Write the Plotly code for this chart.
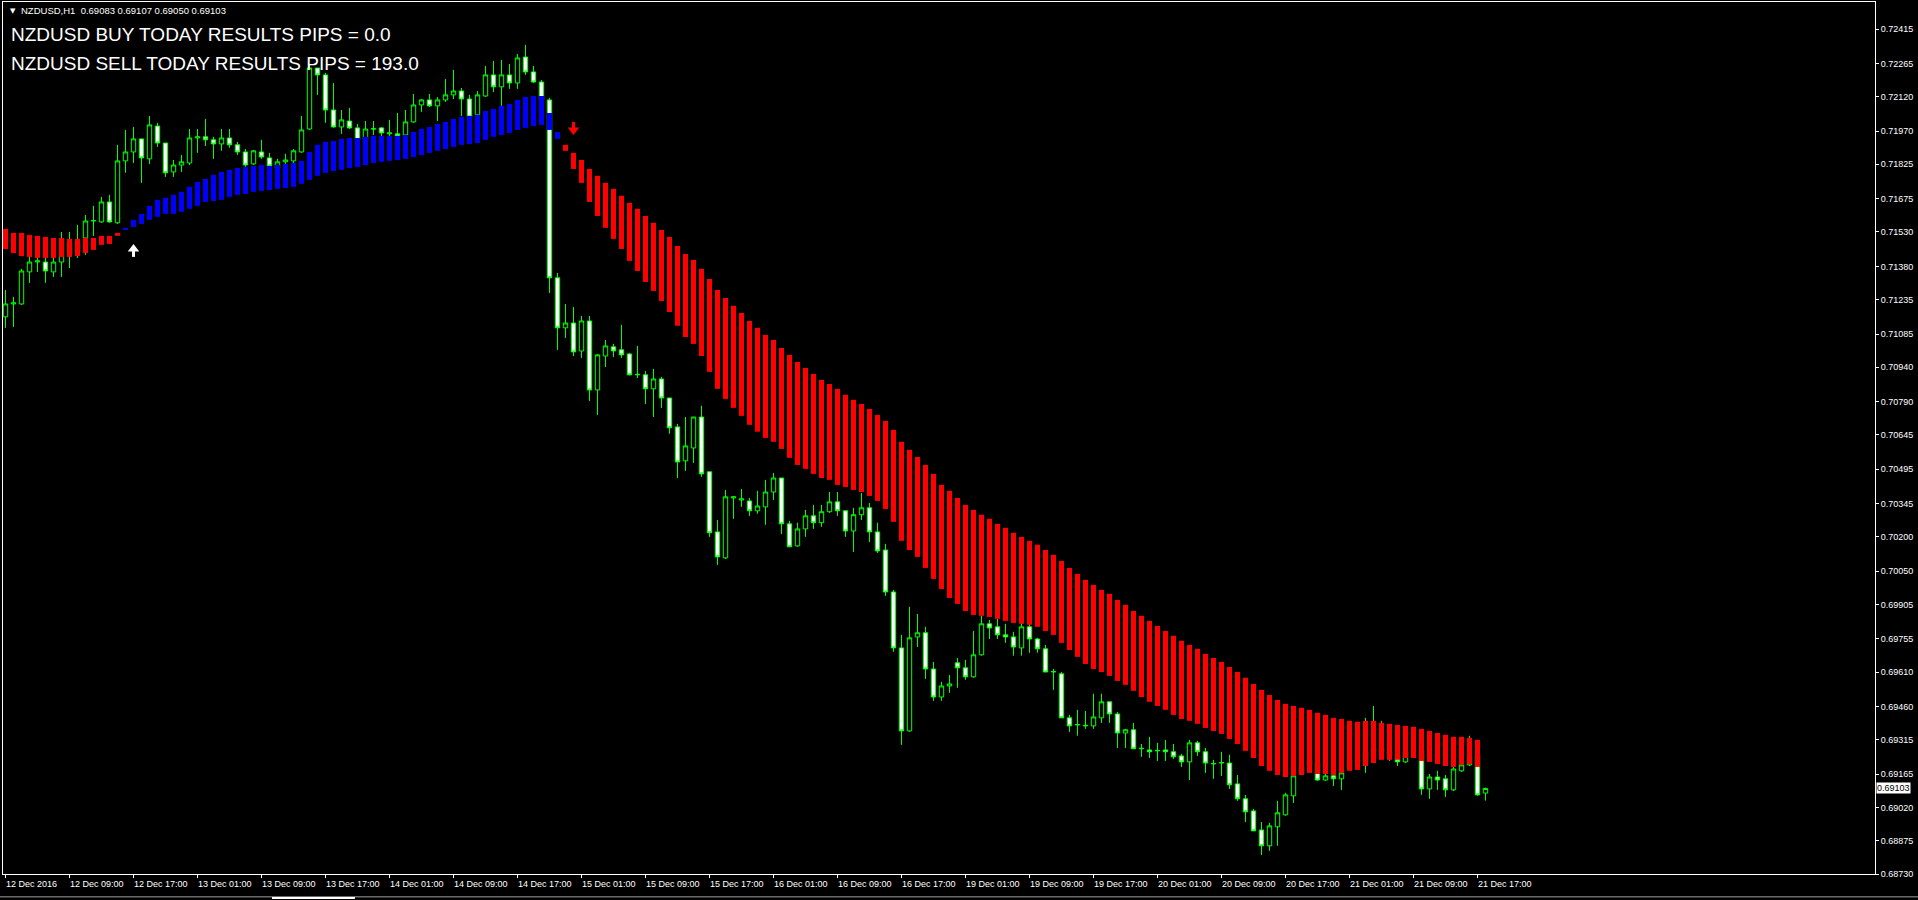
import plotly.graph_objects as go

# ---------------- data (NZDUSD H1) ----------------
bar_index = list(range(186))

open_ = [
 0.71160,0.71216,0.71216,0.71356,0.71399,0.71399,0.71356,0.71399,0.71430,0.71443,
 0.71504,0.71578,0.71574,0.71661,0.71570,0.71840,0.71879,0.71936,0.71849,0.71992,
 0.71918,0.71792,0.71822,0.71831,0.71940,0.71945,0.71932,0.71914,0.71940,0.71910,
 0.71879,0.71827,0.71879,0.71853,0.71809,0.71836,0.71840,0.71879,0.71979,0.72245,
 0.72215,0.72062,0.71988,0.72014,0.71984,0.71932,0.71979,0.71984,0.71958,0.71958,
 0.71953,0.72010,0.72084,0.72106,0.72080,0.72106,0.72128,0.72145,0.72110,0.72041,
 0.72123,0.72215,0.72163,0.72215,0.72180,0.72293,0.72228,0.72184,0.72106,0.71330,
 0.71112,0.71133,0.71011,0.71142,0.70841,0.70989,0.71029,0.71016,0.70998,0.70907,
 0.70907,0.70846,0.70889,0.70806,0.70680,0.70532,0.70588,0.70723,0.70484,0.70222,
 0.70109,0.70370,0.70361,0.70357,0.70314,0.70331,0.70396,0.70457,0.70257,0.70161,
 0.70235,0.70292,0.70262,0.70310,0.70353,0.70314,0.70226,0.70297,0.70327,0.70222,
 0.70143,0.69960,0.69716,0.69354,0.69764,0.69782,0.69624,0.69502,0.69550,0.69651,
 0.69629,0.69590,0.69686,0.69821,0.69808,0.69773,0.69764,0.69716,0.69808,0.69755,
 0.69712,0.69611,0.69603,0.69411,0.69380,0.69376,0.69376,0.69411,0.69481,0.69428,
 0.69345,0.69359,0.69276,0.69271,0.69267,0.69271,0.69263,0.69245,0.69219,0.69302,
 0.69263,0.69210,0.69214,0.69214,0.69123,0.69058,0.69005,0.68922,0.68853,0.68936,
 0.68988,0.69071,0.69166,0.69201,0.69219,0.69140,0.69158,0.69145,0.69193,0.69228,
 0.69219,0.69263,0.69280,0.69263,0.69250,0.69219,0.69263,0.69271,0.69101,0.69153,
 0.69145,0.69097,0.69180,0.69206,0.69250,0.69083]

high = [
 0.71277,0.71247,0.71369,0.71421,0.71430,0.71421,0.71430,0.71530,0.71530,0.71561,
 0.71604,0.71644,0.71683,0.71692,0.71910,0.71975,0.71988,0.71936,0.72036,0.72006,
 0.71918,0.71844,0.71866,0.71979,0.71979,0.72023,0.71945,0.71979,0.71979,0.71923,
 0.71892,0.71888,0.71932,0.71875,0.71849,0.71871,0.71892,0.72036,0.72258,0.72245,
 0.72224,0.72180,0.72062,0.72071,0.72001,0.72014,0.72014,0.71988,0.72019,0.72049,
 0.72062,0.72132,0.72110,0.72132,0.72119,0.72197,0.72237,0.72158,0.72128,0.72145,
 0.72254,0.72276,0.72280,0.72263,0.72306,0.72346,0.72254,0.72193,0.72115,0.71351,
 0.71216,0.71203,0.71164,0.71164,0.70998,0.71059,0.71042,0.71125,0.71003,0.71033,
 0.70924,0.70933,0.70898,0.70806,0.70693,0.70723,0.70723,0.70772,0.70484,0.70274,
 0.70405,0.70377,0.70409,0.70370,0.70401,0.70449,0.70479,0.70457,0.70270,0.70262,
 0.70318,0.70340,0.70340,0.70396,0.70396,0.70314,0.70327,0.70392,0.70348,0.70262,
 0.70170,0.69969,0.69773,0.69895,0.69864,0.69808,0.69655,0.69568,0.69598,0.69672,
 0.69664,0.69790,0.69856,0.69838,0.69843,0.69821,0.69786,0.69825,0.69825,0.69760,
 0.69729,0.69624,0.69611,0.69424,0.69446,0.69441,0.69516,0.69516,0.69481,0.69437,
 0.69363,0.69389,0.69297,0.69328,0.69302,0.69315,0.69297,0.69254,0.69315,0.69311,
 0.69280,0.69228,0.69263,0.69250,0.69162,0.69075,0.69014,0.68957,0.68953,0.69049,
 0.69084,0.69162,0.69214,0.69241,0.69236,0.69184,0.69175,0.69193,0.69245,0.69250,
 0.69411,0.69463,0.69398,0.69337,0.69293,0.69293,0.69315,0.69293,0.69166,0.69180,
 0.69162,0.69197,0.69271,0.69333,0.69293,0.69107]

low = [
 0.71112,0.71116,0.71212,0.71308,0.71356,0.71308,0.71334,0.71334,0.71373,0.71417,
 0.71430,0.71513,0.71570,0.71570,0.71565,0.71788,0.71831,0.71744,0.71827,0.71901,
 0.71770,0.71770,0.71792,0.71822,0.71875,0.71905,0.71849,0.71884,0.71897,0.71866,
 0.71814,0.71822,0.71849,0.71801,0.71796,0.71818,0.71831,0.71875,0.71975,0.72128,
 0.72006,0.71985,0.71958,0.71979,0.71910,0.71923,0.71953,0.71945,0.71940,0.71932,
 0.71945,0.72006,0.72054,0.72075,0.72014,0.72097,0.72110,0.72036,0.72014,0.72028,
 0.72119,0.72141,0.72080,0.72154,0.72154,0.72215,0.72180,0.72088,0.71264,0.71016,
 0.71068,0.70989,0.70981,0.70793,0.70732,0.70941,0.70985,0.70981,0.70905,0.70893,
 0.70780,0.70723,0.70763,0.70650,0.70457,0.70488,0.70523,0.70462,0.70200,0.70078,
 0.70104,0.70279,0.70331,0.70292,0.70301,0.70253,0.70361,0.70213,0.70157,0.70157,
 0.70200,0.70235,0.70244,0.70305,0.70292,0.70200,0.70135,0.70274,0.70178,0.70130,
 0.69943,0.69699,0.69293,0.69350,0.69720,0.69581,0.69485,0.69485,0.69520,0.69542,
 0.69577,0.69586,0.69682,0.69755,0.69755,0.69738,0.69682,0.69682,0.69695,0.69695,
 0.69611,0.69533,0.69411,0.69350,0.69333,0.69363,0.69363,0.69389,0.69389,0.69280,
 0.69280,0.69276,0.69241,0.69236,0.69223,0.69223,0.69232,0.69197,0.69140,0.69245,
 0.69171,0.69145,0.69158,0.69101,0.69049,0.68957,0.68918,0.68813,0.68831,0.68853,
 0.68984,0.69040,0.69162,0.69184,0.69136,0.69136,0.69114,0.69097,0.69184,0.69197,
 0.69171,0.69228,0.69241,0.69223,0.69201,0.69214,0.69245,0.69075,0.69058,0.69097,
 0.69066,0.69092,0.69175,0.69201,0.69071,0.69050]

close = [
 0.71216,0.71221,0.71360,0.71399,0.71404,0.71360,0.71399,0.71500,0.71487,0.71491,
 0.71578,0.71580,0.71661,0.71574,0.71840,0.71879,0.71936,0.71853,0.71997,0.71918,
 0.71788,0.71822,0.71836,0.71940,0.71945,0.71932,0.71914,0.71940,0.71910,0.71879,
 0.71822,0.71884,0.71857,0.71818,0.71836,0.71844,0.71884,0.71975,0.72245,0.72215,
 0.72062,0.71988,0.72019,0.71984,0.71932,0.71979,0.71980,0.71962,0.71962,0.71949,
 0.72010,0.72084,0.72106,0.72080,0.72106,0.72128,0.72145,0.72110,0.72032,0.72128,
 0.72215,0.72163,0.72215,0.72180,0.72289,0.72228,0.72184,0.72106,0.71330,0.71112,
 0.71133,0.71007,0.71142,0.70841,0.70994,0.71033,0.71011,0.70994,0.70907,0.70909,
 0.70846,0.70889,0.70806,0.70676,0.70527,0.70597,0.70723,0.70475,0.70218,0.70113,
 0.70375,0.70375,0.70366,0.70314,0.70335,0.70396,0.70457,0.70257,0.70157,0.70235,
 0.70292,0.70262,0.70310,0.70353,0.70314,0.70226,0.70297,0.70327,0.70222,0.70139,
 0.69960,0.69716,0.69354,0.69760,0.69782,0.69624,0.69502,0.69550,0.69559,0.69629,
 0.69590,0.69686,0.69821,0.69803,0.69773,0.69764,0.69720,0.69808,0.69755,0.69712,
 0.69611,0.69613,0.69411,0.69376,0.69382,0.69378,0.69415,0.69481,0.69428,0.69345,
 0.69359,0.69276,0.69278,0.69263,0.69269,0.69263,0.69241,0.69219,0.69302,0.69263,
 0.69214,0.69212,0.69216,0.69119,0.69058,0.69001,0.68918,0.68853,0.68940,0.68997,
 0.69075,0.69158,0.69201,0.69228,0.69140,0.69158,0.69145,0.69171,0.69228,0.69219,
 0.69263,0.69280,0.69263,0.69250,0.69219,0.69263,0.69271,0.69101,0.69153,0.69140,
 0.69097,0.69188,0.69206,0.69250,0.69075,0.69103]

# trend band (indicator) : upper / lower edge per bar, and direction
band_upper = [
 0.71543,0.71526,0.71526,0.71517,0.71513,0.71508,0.71504,0.71504,0.71500,0.71500,
 0.71504,0.71504,0.71513,0.71513,0.71526,0.71548,0.71583,0.71609,0.71644,0.71670,
 0.71679,0.71692,0.71705,0.71727,0.71748,0.71761,0.71779,0.71792,0.71801,0.71809,
 0.71814,0.71818,0.71822,0.71818,0.71822,0.71827,0.71831,0.71840,0.71879,0.71910,
 0.71923,0.71927,0.71936,0.71940,0.71940,0.71945,0.71949,0.71949,0.71949,0.71949,
 0.71953,0.71966,0.71979,0.71988,0.72001,0.72010,0.72023,0.72032,0.72036,0.72041,
 0.72058,0.72067,0.72080,0.72088,0.72106,0.72119,0.72123,0.72123,0.72049,0.71966,
 0.71910,0.71875,0.71844,0.71805,0.71775,0.71744,0.71718,0.71688,0.71657,0.71631,
 0.71600,0.71570,0.71539,0.71508,0.71469,0.71434,0.71408,0.71369,0.71325,0.71277,
 0.71242,0.71208,0.71177,0.71142,0.71112,0.71081,0.71059,0.71024,0.70994,0.70963,
 0.70937,0.70911,0.70885,0.70867,0.70846,0.70820,0.70798,0.70780,0.70758,0.70732,
 0.70706,0.70667,0.70615,0.70580,0.70549,0.70514,0.70475,0.70427,0.70401,0.70370,
 0.70340,0.70318,0.70297,0.70279,0.70257,0.70240,0.70218,0.70200,0.70183,0.70166,
 0.70143,0.70122,0.70095,0.70065,0.70039,0.70013,0.69991,0.69969,0.69952,0.69925,
 0.69904,0.69877,0.69856,0.69834,0.69812,0.69790,0.69769,0.69747,0.69729,0.69712,
 0.69690,0.69672,0.69655,0.69633,0.69611,0.69586,0.69559,0.69533,0.69511,0.69489,
 0.69472,0.69463,0.69455,0.69446,0.69433,0.69424,0.69411,0.69406,0.69398,0.69394,
 0.69398,0.69398,0.69389,0.69385,0.69380,0.69376,0.69372,0.69363,0.69354,0.69345,
 0.69337,0.69328,0.69328,0.69324,0.69315]

band_lower = [
 0.71456,0.71438,0.71425,0.71421,0.71417,0.71417,0.71417,0.71421,0.71421,0.71425,
 0.71438,0.71452,0.71474,0.71478,0.71513,0.71539,0.71552,0.71565,0.71583,0.71596,
 0.71609,0.71609,0.71618,0.71631,0.71644,0.71661,0.71665,0.71670,0.71683,0.71692,
 0.71696,0.71705,0.71709,0.71713,0.71718,0.71722,0.71727,0.71740,0.71757,0.71775,
 0.71788,0.71796,0.71801,0.71809,0.71814,0.71822,0.71831,0.71836,0.71840,0.71844,
 0.71849,0.71857,0.71866,0.71875,0.71884,0.71892,0.71901,0.71910,0.71914,0.71918,
 0.71932,0.71945,0.71953,0.71962,0.71975,0.71984,0.71992,0.71997,0.71975,0.71936,
 0.71884,0.71805,0.71744,0.71661,0.71600,0.71548,0.71500,0.71456,0.71404,0.71360,
 0.71312,0.71273,0.71229,0.71181,0.71121,0.71072,0.71042,0.70989,0.70920,0.70846,
 0.70802,0.70763,0.70728,0.70689,0.70659,0.70632,0.70615,0.70584,0.70545,0.70514,
 0.70497,0.70475,0.70457,0.70449,0.70427,0.70418,0.70405,0.70396,0.70379,0.70357,
 0.70322,0.70266,0.70183,0.70143,0.70113,0.70065,0.70017,0.69973,0.69934,0.69908,
 0.69877,0.69860,0.69856,0.69851,0.69843,0.69834,0.69825,0.69821,0.69817,0.69808,
 0.69790,0.69773,0.69738,0.69707,0.69677,0.69646,0.69624,0.69611,0.69594,0.69572,
 0.69555,0.69529,0.69502,0.69481,0.69463,0.69446,0.69424,0.69406,0.69398,0.69385,
 0.69367,0.69354,0.69341,0.69319,0.69297,0.69267,0.69236,0.69201,0.69180,0.69162,
 0.69153,0.69158,0.69162,0.69171,0.69166,0.69166,0.69162,0.69171,0.69180,0.69184,
 0.69201,0.69214,0.69228,0.69228,0.69228,0.69236,0.69236,0.69223,0.69219,0.69210,
 0.69201,0.69197,0.69206,0.69210,0.69197]

band_trend = ["down"] * 15 + ["up"] * 55 + ["down"] * 115

# signal arrows: (bar, price at arrow tip, direction)
signals = [(16, 0.71478, "buy"), (71, 0.71953, "sell")]

# axis labels
price_labels = ["0.72415","0.72265","0.72120","0.71970","0.71825","0.71675","0.71530",
                "0.71380","0.71235","0.71085","0.70940","0.70790","0.70645","0.70495",
                "0.70345","0.70200","0.70050","0.69905","0.69755","0.69610","0.69460",
                "0.69315","0.69165","0.69020","0.68875","0.68730"]
time_labels = ["12 Dec 2016","12 Dec 09:00","12 Dec 17:00","13 Dec 01:00","13 Dec 09:00",
               "13 Dec 17:00","14 Dec 01:00","14 Dec 09:00","14 Dec 17:00","15 Dec 01:00",
               "15 Dec 09:00","15 Dec 17:00","16 Dec 01:00","16 Dec 09:00","16 Dec 17:00",
               "19 Dec 01:00","19 Dec 09:00","19 Dec 17:00","20 Dec 01:00","20 Dec 09:00",
               "20 Dec 17:00","21 Dec 01:00","21 Dec 09:00","21 Dec 17:00"]
time_label_bars = list(range(0, 185, 8))

symbol_line = "NZDUSD,H1  0.69083 0.69107 0.69050 0.69103"
buy_text = "NZDUSD BUY TODAY RESULTS PIPS = 0.0"
sell_text = "NZDUSD SELL TODAY RESULTS PIPS = 193.0"
last_price = 0.69103

# ---------------- figure ----------------
X_RANGE = [-0.3125, 233.6875]
Y_RANGE = [0.68730, 0.72533]
PLOT_H = 872
PX = (Y_RANGE[1] - Y_RANGE[0]) / PLOT_H   # price per screen pixel
FONT = "Liberation Sans, Arial, sans-serif"
GREEN = "#00ff00"

fig = go.Figure()

fig.add_trace(go.Candlestick(
    x=bar_index, open=open_, high=high, low=low, close=close,
    increasing=dict(line=dict(color=GREEN, width=1), fillcolor="#000000"),
    decreasing=dict(line=dict(color=GREEN, width=1), fillcolor="#ffffff"),
    whiskerwidth=0, hoverinfo="skip", showlegend=False,
))

nb = len(band_upper)
fig.add_trace(go.Bar(
    x=bar_index[:nb],
    y=[u - l for u, l in zip(band_upper, band_lower)],
    base=band_lower,
    width=0.625,
    marker=dict(color=["#ff0000" if t == "down" else "#0000ff" for t in band_trend],
                line=dict(width=0)),
    xaxis="x2", yaxis="y2", hoverinfo="skip", showlegend=False,
))

# signal arrows: stem + head (MT4 style)
for bar, price, kind in signals:
    d = 1 if kind == "buy" else -1          # +1: arrow points up
    col = "#ffffff" if kind == "buy" else "#ff0000"
    head_c = price - d * 5 * PX
    tail = price - d * 13 * PX
    fig.add_trace(go.Scatter(
        x=[bar, bar], y=[head_c, tail], mode="lines",
        line=dict(color=col, width=3), xaxis="x2", yaxis="y2",
        hoverinfo="skip", showlegend=False,
    ))
    fig.add_trace(go.Scatter(
        x=[bar], y=[head_c], mode="markers",
        marker=dict(symbol="triangle-up" if kind == "buy" else "triangle-down",
                    size=10, color=col, line=dict(width=0)),
        xaxis="x2", yaxis="y2", hoverinfo="skip", showlegend=False,
    ))

annotations = []
for b, t in zip(time_label_bars, time_labels):
    annotations.append(dict(
        x=b, y=0, xref="x", yref="paper", text=t, showarrow=False,
        xanchor="left", yanchor="top", yshift=-3, xshift=-2,
        font=dict(family=FONT, size=9, color="#ffffff"),
    ))

annotations += [
    dict(x=0.0027, y=0.9895, xref="paper", yref="paper", text="▼", showarrow=False,
         xanchor="left", yanchor="middle",
         font=dict(family="DejaVu Sans", size=7, color="#ffffff")),
    dict(x=0.0085, y=0.9897, xref="paper", yref="paper", text=symbol_line, showarrow=False,
         xanchor="left", yanchor="middle",
         font=dict(family=FONT, size=9.5, color="#ffffff")),
    dict(x=0.0030, y=0.9633, xref="paper", yref="paper", text=buy_text, showarrow=False,
         xanchor="left", yanchor="middle",
         font=dict(family=FONT, size=19, color="#ffffff")),
    dict(x=0.0030, y=0.9289, xref="paper", yref="paper", text=sell_text, showarrow=False,
         xanchor="left", yanchor="middle",
         font=dict(family=FONT, size=19, color="#ffffff")),
    dict(x=1, y=last_price, xref="paper", yref="y", text="%.5f" % last_price,
         showarrow=False, xanchor="left", yanchor="middle", xshift=1,
         bgcolor="#ffffff", borderpad=0,
         font=dict(family=FONT, size=9, color="#000000")),
]

shapes = [
    dict(type="line", xref="paper", yref="paper", x0=-0.002, x1=1.03, y0=-0.0262, y1=-0.0262,
         line=dict(color="#a0a0a0", width=1)),
    dict(type="line", xref="paper", yref="paper", x0=0.1437, x1=0.188, y0=-0.0275, y1=-0.0275,
         line=dict(color="#ffffff", width=2)),
]

axis_common = dict(showgrid=False, zeroline=False, fixedrange=True)

fig.update_layout(
    width=1918, height=900,
    margin=dict(l=3, r=43, t=2, b=26, pad=0),
    paper_bgcolor="#000000", plot_bgcolor="#000000",
    showlegend=False, hovermode=False, dragmode=False,
    boxgap=0.45, boxgroupgap=0,
    xaxis=dict(range=X_RANGE, rangeslider=dict(visible=False),
               showline=True, linecolor="#ffffff", linewidth=1, mirror=True,
               ticks="outside", ticklen=3, tickcolor="#ffffff", tickwidth=1,
               tickvals=time_label_bars, showticklabels=False, **axis_common),
    yaxis=dict(range=Y_RANGE, side="right",
               showline=True, linecolor="#ffffff", linewidth=1, mirror=True,
               ticks="outside", ticklen=3, tickcolor="#ffffff", tickwidth=1,
               tickvals=[float(p) for p in price_labels], ticktext=price_labels,
               tickfont=dict(family=FONT, size=9, color="#ffffff"), **axis_common),
    xaxis2=dict(range=X_RANGE, overlaying="x", visible=False, **axis_common),
    yaxis2=dict(range=Y_RANGE, overlaying="y", visible=False, **axis_common),
    annotations=annotations,
    shapes=shapes,
)

fig.write_html(
    "out.html",
    config={"displayModeBar": False, "staticPlot": True},
    post_script="document.body.style.margin='0';document.body.style.background='#000';document.body.style.overflow='hidden';",
)
